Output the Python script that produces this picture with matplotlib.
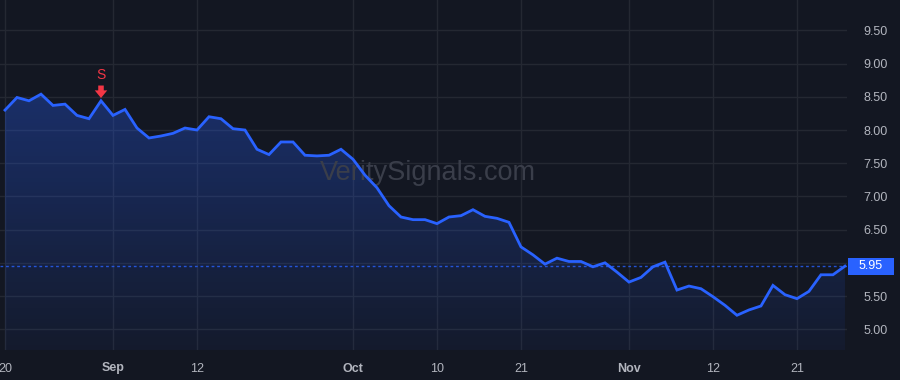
import numpy as np
import matplotlib.pyplot as plt
from matplotlib.patches import Polygon, Rectangle

# daily closes, Aug 20 -> Nov 27 (trading days)
prices = [8.30, 8.49, 8.44, 8.54, 8.37, 8.39, 8.22, 8.17, 8.44, 8.22,
          8.31, 8.03, 7.88, 7.91, 7.95, 8.03, 8.00, 8.20, 8.17, 8.02,
          8.00, 7.71, 7.63, 7.82, 7.82, 7.62, 7.61, 7.62, 7.71, 7.56,
          7.32, 7.13, 6.86, 6.69, 6.65, 6.65, 6.59, 6.69, 6.71, 6.80,
          6.70, 6.67, 6.61, 6.24, 6.12, 5.98, 6.07, 6.02, 6.02, 5.94,
          6.00, 5.86, 5.71, 5.78, 5.94, 6.01, 5.59, 5.65, 5.61, 5.49,
          5.36, 5.21, 5.29, 5.35, 5.66, 5.52, 5.46, 5.57, 5.82, 5.82,
          5.95]

xtick_pos = [0, 9, 16, 29, 36, 43, 52, 59, 66]
xtick_lab = ['20', 'Sep', '12', 'Oct', '10', '21', 'Nov', '12', '21']
month_labels = ['Sep', 'Oct', 'Nov']

ytick_vals = [5.0, 5.5, 6.0, 6.5, 7.0, 7.5, 8.0, 8.5, 9.0, 9.5]
ytick_lab = ['5.00', '5.50', '', '6.50', '7.00', '7.50', '8.00', '8.50', '9.00', '9.50']

signal_idx = 8
signal_txt = 'S'
last_price = prices[-1]

bg = '#131722'
line_c = '#2962ff'
grid_c = '#242832'
txt_c = '#b2b5be'
red = '#f23645'

plt.rcParams['font.family'] = ['Liberation Sans', 'DejaVu Sans']

fig = plt.figure(figsize=(9, 3.8), dpi=100, facecolor=bg)
ax = fig.add_axes([0, 30/380, 847/900, 350/380])
ax.set_facecolor(bg)

x = np.arange(len(prices))
y = np.array(prices)

ax.set_xlim(-0.417, 70.17)
ax.set_ylim(4.687, 9.958)

# gradient fill under line
ymin = ax.get_ylim()[0]
grad = np.linspace(0.05, 0.32, 256).reshape(-1, 1)
rgba = np.zeros((256, 1, 4))
rgba[..., 0] = 0x29/255
rgba[..., 1] = 0x62/255
rgba[..., 2] = 1.0
rgba[..., 3] = grad
im = ax.imshow(rgba, extent=[x[0], x[-1], ymin, y.max()], origin='lower',
               aspect='auto', zorder=1)
poly = Polygon(np.column_stack([np.r_[x, x[-1], x[0]], np.r_[y, ymin, ymin]]),
               closed=True, facecolor='none', edgecolor='none')
ax.add_patch(poly)
im.set_clip_path(poly)

ax.plot(x, y, color=line_c, lw=2, zorder=3, solid_joinstyle='miter')

# last price dotted line + label box
ax.axhline(last_price, color=line_c, lw=1, ls=(0, (2, 2)), alpha=0.8, zorder=2)
box_w = 46/847
box_h = 17/66.4
ax.add_patch(Rectangle((1.001, last_price - box_h/2), box_w, box_h,
                       transform=ax.get_yaxis_transform(), fc=line_c, ec='none',
                       clip_on=False, zorder=5))
ax.text(1.001 + box_w/2, last_price, '%.2f' % last_price,
        transform=ax.get_yaxis_transform(), ha='center', va='center',
        fontsize=9, color='white', zorder=6, clip_on=False)

# sell signal
sv = prices[signal_idx]
ax.annotate('', xy=(signal_idx, sv), xytext=(0, 11), textcoords='offset points',
            xycoords='data',
            arrowprops=dict(arrowstyle='simple,head_width=0.9,head_length=0.55,tail_width=0.4',
                            fc=red, ec='none', shrinkA=0, shrinkB=2), zorder=5)
ax.annotate(signal_txt, xy=(signal_idx, sv), xytext=(0, 13.5), textcoords='offset points',
            ha='center', va='bottom', color=red, fontsize=10, zorder=5)

# watermark
ax.text(0.505, 0.505, 'VeritySignals.com', transform=ax.transAxes, ha='center',
        va='center', fontsize=19.5, color='#3a3e4a', zorder=2)

ax.set_xticks(xtick_pos)
ax.set_xticklabels(xtick_lab)
for lbl in ax.get_xticklabels():
    if lbl.get_text() in month_labels:
        lbl.set_fontweight('bold')
ax.set_yticks(ytick_vals)
ax.set_yticklabels(ytick_lab)
ax.yaxis.tick_right()
ax.tick_params(axis='both', length=0, colors=txt_c, labelsize=9)
ax.tick_params(axis='y', pad=12)
ax.tick_params(axis='x', pad=9)
ax.grid(True, color=grid_c, lw=1)
ax.set_axisbelow(True)
for s in ax.spines.values():
    s.set_visible(False)

fig.savefig('out.png', dpi=100, facecolor=bg)
